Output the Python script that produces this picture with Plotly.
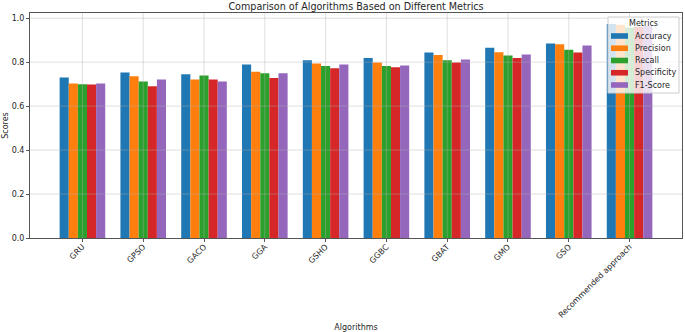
import plotly.graph_objects as go

algorithms = ["GRU", "GPSO", "GACO", "GGA", "GSHO", "GGBC", "GBAT", "GMO", "GSO", "Recommended approach"]
metrics = ["Accuracy", "Precision", "Recall", "Specificity", "F1-Score"]

accuracy    = [0.730, 0.753, 0.745, 0.789, 0.809, 0.819, 0.844, 0.865, 0.885, 0.973]
precision   = [0.703, 0.736, 0.721, 0.756, 0.794, 0.798, 0.832, 0.845, 0.882, 0.970]
recall      = [0.700, 0.712, 0.739, 0.750, 0.783, 0.783, 0.809, 0.830, 0.856, 0.958]
specificity = [0.698, 0.690, 0.721, 0.728, 0.772, 0.777, 0.798, 0.819, 0.844, 0.960]
f1_score    = [0.703, 0.721, 0.712, 0.750, 0.789, 0.785, 0.812, 0.835, 0.876, 0.965]
y_ticks = [0.0, 0.2, 0.4, 0.6, 0.8, 1.0]

series = [accuracy, precision, recall, specificity, f1_score]
colors = ["#1f77b4", "#ff7f0e", "#2ca02c", "#d62728", "#9467bd"]

FONT = "DejaVu Sans"
TXT = "#262626"
W, H = 685, 332
ML, MR, MT, MB = 30, 3, 13, 94
PW, PH = W - ML - MR, H - MT - MB


def px_x(px):
    return (px - ML) / PW


def px_y(py):
    return 1 - (py - MT) / PH


fig = go.Figure()
for name, vals, col in zip(metrics, series, colors):
    fig.add_trace(go.Bar(x=algorithms, y=vals, name=name,
                         marker=dict(color=col, line=dict(width=0))))

shapes = []
annotations = []
grid = "rgba(176,176,176,0.5)"
# gridlines drawn above the bars (as in the reference)
for t in y_ticks[1:]:
    shapes.append(dict(type="line", xref="paper", yref="y", x0=0, x1=1, y0=t, y1=t,
                       line=dict(color=grid, width=0.8), layer="above"))
for a in algorithms:
    shapes.append(dict(type="line", xref="x", yref="paper", x0=a, x1=a, y0=0, y1=1,
                       line=dict(color=grid, width=0.8), layer="above"))

# legend box (semi-transparent, like matplotlib's)
shapes.append(dict(type="rect", xref="paper", yref="paper",
                   x0=px_x(608), x1=px_x(679), y0=px_y(93), y1=px_y(17),
                   fillcolor="rgba(255,255,255,0.8)", line=dict(color="#cccccc", width=1),
                   layer="above"))
annotations.append(dict(text="Metrics", xref="paper", yref="paper", x=px_x(643), y=px_y(24),
                        xanchor="center", yanchor="middle", showarrow=False,
                        font=dict(family=FONT, size=8, color=TXT)))
for i, (name, col) in enumerate(zip(metrics, colors)):
    cy = 36 + i * 12.25
    shapes.append(dict(type="rect", xref="paper", yref="paper",
                       x0=px_x(611), x1=px_x(628), y0=px_y(cy + 2.8), y1=px_y(cy - 2.8),
                       fillcolor=col, line=dict(width=0), layer="above"))
    annotations.append(dict(text=name, xref="paper", yref="paper", x=px_x(633), y=px_y(cy),
                            xanchor="left", yanchor="middle", showarrow=False,
                            font=dict(family=FONT, size=8, color=TXT)))

fig.update_layout(
    width=W, height=H,
    margin=dict(l=ML, r=MR, t=MT, b=MB),
    paper_bgcolor="white", plot_bgcolor="white",
    barmode="group", bargap=0.25, bargroupgap=0,
    font=dict(family=FONT, size=8, color=TXT),
    title=dict(text="Comparison of Algorithms Based on Different Metrics",
               xref="paper", x=0.5, xanchor="center",
               yref="container", y=1 - 6.5 / H, yanchor="middle",
               font=dict(family=FONT, size=9.6, color=TXT)),
    showlegend=False,
    shapes=shapes,
    annotations=annotations,
)

fig.update_xaxes(
    range=[-0.8625, 9.8625], tickangle=-45,
    showgrid=False,
    showline=True, linecolor="#555555", linewidth=1, mirror=True,
    ticks="outside", ticklen=3, tickcolor="#555555",
    ticklabelstandoff=-3,
    title=dict(text="Algorithms", font=dict(size=8), standoff=5),
    tickfont=dict(size=8),
)
fig.update_yaxes(
    range=[0, 1.0236], tickvals=y_ticks,
    ticktext=[f"{t:.1f}" for t in y_ticks],
    showgrid=False, zeroline=False,
    showline=True, linecolor="#555555", linewidth=1, mirror=True,
    ticks="outside", ticklen=3, tickcolor="#555555",
    title=dict(text="Scores", font=dict(size=8), standoff=1),
    tickfont=dict(size=8),
)

fig.write_html("out.html",
               config={"displayModeBar": False},
               post_script="document.body.style.margin='0';document.body.style.padding='0';")
